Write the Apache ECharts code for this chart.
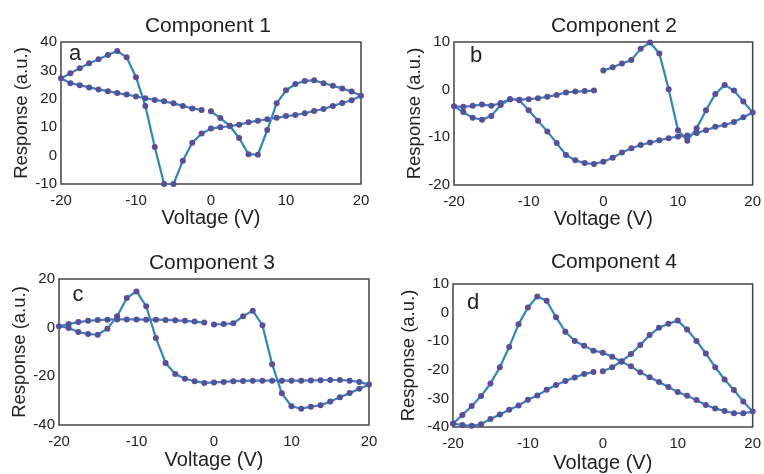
<!DOCTYPE html>
<html>
<head>
<meta charset="utf-8">
<script src="https://cdn.jsdelivr.net/npm/echarts@6/dist/echarts.min.js"></script>
<style>
  html, body { margin: 0; padding: 0; background: #fff; }
  #chart { width: 764px; height: 474px; }
</style>
</head>
<body>
<div id="chart"></div>
<script>
// voltage sweep: 0 -> 20 -> -20 -> -1.25 (same for all four components)
const voltage = [
    0, 1.25, 2.5, 3.75, 5, 6.25, 7.5, 8.75, 10, 11.25, 12.5, 13.75, 15, 16.25, 17.5, 18.75, 20,
    18.75, 17.5, 16.25, 15, 13.75, 12.5, 11.25, 10, 8.75, 7.5, 6.25, 5, 3.75, 2.5, 1.25, 0,
    -1.25, -2.5, -3.75, -5, -6.25, -7.5, -8.75, -10, -11.25, -12.5, -13.75, -15, -16.25, -17.5, -18.75, -20,
    -18.75, -17.5, -16.25, -15, -13.75, -12.5, -11.25, -10, -8.75, -7.5, -6.25, -5, -3.75, -2.5, -1.25
];

const responseA = [
    15.6, 13.2, 10.5, 6.2, 0.5, 0.3, 9, 18.4, 23, 25.2, 26.3, 26.5, 25.5, 24.6, 23.6, 22.6, 21.1,
    19.5, 18.5, 17.5, 16.4, 15.7, 14.9, 14.3, 13.9, 13.3, 12.8, 12.3, 11.7, 10.9, 10.4, 10, 9.5,
    7.8, 4.5, -1.8, -10, -10, 3, 17.5, 27.6, 34.6, 36.8, 35.4, 33.9, 32.5, 30.8, 29, 27.2,
    25.5, 24.8, 24.0, 23.3, 22.7, 22, 21.5, 20.8, 20.2, 19.6, 19.1, 18.4, 17.5, 16.6, 16.1
];

const responseB = [
    4.0, 4.7, 5.5, 6.2, 8.6, 9.9, 7.6, 0.1, -8.5, -10.7, -8.1, -4.3, -0.9, 1.0, -0.2, -2.5, -4.8,
    -5.8, -6.8, -7.4, -7.8, -8.5, -9.1, -9.6, -9.8, -10.2, -10.6, -11.1, -11.6, -12.3, -13.2, -14.3, -15.1,
    -15.6, -15.4, -14.8, -13.7, -11.2, -8.8, -6.5, -4.3, -2.2, -2.0, -3.2, -5.5, -6.3, -5.9, -4.7, -3.5,
    -3.6, -3.4, -3.1, -3.4, -2.8, -2.0, -2.1, -2.0, -1.8, -1.5, -1.1, -0.6, -0.4, -0.3, -0.2
];

const responseC = [
    1.3, 1.5, 1.8, 4.7, 7.0, 1.0, -15, -27, -32.3, -33.3, -32.5, -31.9, -30.3, -28.6, -26.9, -25.1, -23.4,
    -22.3, -21.8, -21.5, -21.5, -21.6, -21.7, -21.8, -21.8, -21.8, -21.8, -21.8, -21.8, -21.9, -22.0, -22.3, -22.5,
    -22.7, -22.0, -21.0, -19.0, -14.5, -4.2, 8.8, 14.9, 12.2, 4.7, -0.4, -2.9, -2.6, -1.8, -0.1, 0.6,
    1.5, 2.3, 2.8, 3.1, 3.3, 3.4, 3.4, 3.4, 3.3, 3.3, 3.2, 3.0, 2.8, 2.5, 2.1
];

const responseD = [
    -20.5, -19.1, -17.0, -14.5, -11.3, -7.8, -5.3, -3.9, -2.8, -5.9, -9.9, -14.3, -19.1, -23.4, -27.1, -31.1, -34.6,
    -35.2, -35.2, -34.4, -33.5, -32.3, -30.6, -29.1, -27.8, -26.0, -24.3, -22.6, -20.9, -18.8, -17.2, -15.4, -14.0,
    -13.3, -11.6, -9.9, -6.7, -1.6, 4.1, 5.6, 1.8, -4.1, -12.0, -19.1, -24.8, -29.2, -32.7, -35.8, -38.8,
    -39.3, -39.6, -39.0, -37.2, -35.6, -34.0, -32.5, -30.5, -29.0, -27.0, -25.3, -23.9, -22.7, -21.5, -20.8
];

const titles = ['Component 1', 'Component 2', 'Component 3', 'Component 4'];
const letters = ['a', 'b', 'c', 'd'];
const yRanges = [[-10, 40, 10], [-20, 10, 10], [-40, 20, 20], [-40, 10, 10]];
const responses = [responseA, responseB, responseC, responseD];

// layout of the four panels
const panels = [
    { grid: { left: 61, top: 42, width: 300, height: 142 }, titleX: 208, titleY: 16, letterX: 75, letterY: 54, xGap: 23, yGap: 30 },
    { grid: { left: 454, top: 42, width: 300, height: 143 }, titleX: 614, titleY: 16, letterX: 476, letterY: 56, xGap: 21, yGap: 30 },
    { grid: { left: 59, top: 279, width: 310, height: 146 }, titleX: 212, titleY: 253, letterX: 78, letterY: 295, xGap: 25, yGap: 30 },
    { grid: { left: 453, top: 284, width: 303, height: 145 }, titleX: 614, titleY: 252, letterX: 473, letterY: 303, xGap: 26, yGap: 35 }
];

const LINE = '#2a88bd';
const DOT = '#5b4c9c';
const TEXT = '#222';
const FONT = '"Liberation Sans", Arial, sans-serif';

const chart = echarts.init(document.getElementById('chart'), null, { renderer: 'canvas' });

const option = {
    animation: false,
    backgroundColor: '#fff',
    title: panels.map((p, i) => ({
        text: titles[i],
        left: p.titleX,
        top: p.titleY,
        textAlign: 'center',
        padding: 0,
        textStyle: { fontFamily: FONT, fontSize: 21, fontWeight: 'normal', color: TEXT }
    })),
    grid: panels.map(p => Object.assign({
        show: true,
        borderColor: '#444',
        borderWidth: 1.5,
        containLabel: false
    }, p.grid)),
    xAxis: panels.map((p, i) => ({
        type: 'value',
        gridIndex: i,
        min: -20,
        max: 20,
        interval: 10,
        name: 'Voltage (V)',
        nameLocation: 'middle',
        nameGap: p.xGap,
        nameTextStyle: { fontFamily: FONT, fontSize: 20, color: TEXT },
        axisLine: { show: false },
        axisTick: { show: false },
        splitLine: { show: false },
        axisLabel: { fontFamily: FONT, fontSize: 15, color: TEXT, margin: 9 }
    })),
    yAxis: panels.map((p, i) => ({
        type: 'value',
        gridIndex: i,
        min: yRanges[i][0],
        max: yRanges[i][1],
        interval: yRanges[i][2],
        name: 'Response (a.u.)',
        nameLocation: 'middle',
        nameGap: p.yGap,
        nameTextStyle: { fontFamily: FONT, fontSize: 18.5, color: TEXT },
        axisLine: { show: false },
        axisTick: { show: false },
        splitLine: { show: false },
        axisLabel: { fontFamily: FONT, fontSize: 15, color: TEXT, margin: 4 }
    })),
    series: responses.map((r, i) => ({
        type: 'line',
        xAxisIndex: i,
        yAxisIndex: i,
        data: voltage.map((v, k) => [v, r[k]]),
        clip: false,
        symbol: 'circle',
        symbolSize: 6,
        showAllSymbol: true,
        lineStyle: { color: LINE, width: 2.2 },
        itemStyle: { color: DOT },
        z: 3
    })),
    graphic: panels.map((p, i) => ({
        type: 'text',
        x: p.letterX,
        y: p.letterY,
        style: {
            text: letters[i],
            fontFamily: FONT,
            fontSize: 22,
            fill: TEXT,
            align: 'center',
            verticalAlign: 'middle'
        }
    }))
};

chart.setOption(option);
</script>
</body>
</html>
